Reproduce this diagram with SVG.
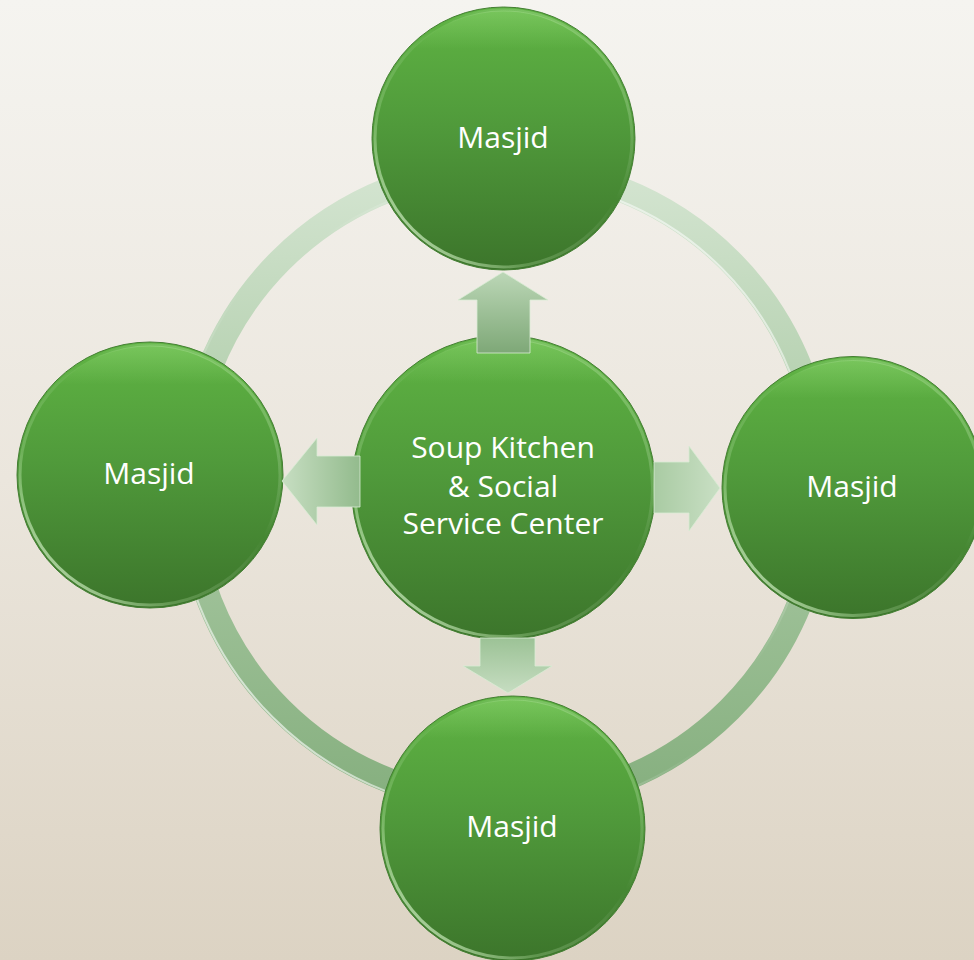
<svg xmlns="http://www.w3.org/2000/svg" width="974" height="960" viewBox="0 0 974 960">
  <defs>
    <linearGradient id="bg" x1="0" y1="0" x2="0" y2="1">
      <stop offset="0" stop-color="#f5f4f0"/>
      <stop offset="0.5" stop-color="#ebe6dd"/>
      <stop offset="1" stop-color="#dcd3c3"/>
    </linearGradient>
    <linearGradient id="ringGrad" gradientUnits="userSpaceOnUse" x1="0" y1="155" x2="0" y2="815">
      <stop offset="0" stop-color="#d6e6d3"/>
      <stop offset="0.5" stop-color="#a9c9a3"/>
      <stop offset="1" stop-color="#84ae7d"/>
    </linearGradient>
    <linearGradient id="ringHiOuter" gradientUnits="userSpaceOnUse" x1="180" y1="810" x2="830" y2="160">
      <stop offset="0" stop-color="#ffffff" stop-opacity="0.9"/>
      <stop offset="0.45" stop-color="#ffffff" stop-opacity="0"/>
      <stop offset="1" stop-color="#ffffff" stop-opacity="0"/>
    </linearGradient>
    <linearGradient id="ringHiInner" gradientUnits="userSpaceOnUse" x1="830" y1="160" x2="180" y2="810">
      <stop offset="0" stop-color="#ffffff" stop-opacity="0.9"/>
      <stop offset="0.45" stop-color="#ffffff" stop-opacity="0"/>
      <stop offset="1" stop-color="#ffffff" stop-opacity="0"/>
    </linearGradient>
    <linearGradient id="ball" x1="0" y1="0" x2="0" y2="1">
      <stop offset="0" stop-color="#5fb443"/>
      <stop offset="0.45" stop-color="#509a3b"/>
      <stop offset="1" stop-color="#3c752b"/>
    </linearGradient>
    <linearGradient id="ballHi" x1="0" y1="1" x2="1" y2="0">
      <stop offset="0" stop-color="#f0ffe8" stop-opacity="1"/>
      <stop offset="0.3" stop-color="#c6f0b4" stop-opacity="0.25"/>
      <stop offset="0.6" stop-color="#ffffff" stop-opacity="0"/>
      <stop offset="1" stop-color="#b9ec9f" stop-opacity="0.45"/>
    </linearGradient>
    <linearGradient id="ballTop" x1="0" y1="0" x2="0" y2="1">
      <stop offset="0" stop-color="#a6e68a" stop-opacity="0.35"/>
      <stop offset="0.15" stop-color="#a6e68a" stop-opacity="0"/>
    </linearGradient>
    <linearGradient id="arrowV" x1="0" y1="0" x2="0" y2="1">
      <stop offset="0" stop-color="#bcd7b7"/>
      <stop offset="1" stop-color="#7ea877"/>
    </linearGradient>
    <linearGradient id="arrowD" x1="0" y1="0" x2="0" y2="1">
      <stop offset="0" stop-color="#9cc296"/>
      <stop offset="1" stop-color="#c6ddc1"/>
    </linearGradient>
    <linearGradient id="arrowH" x1="0" y1="0" x2="1" y2="0">
      <stop offset="0" stop-color="#c7dec2"/>
      <stop offset="1" stop-color="#93bb8d"/>
    </linearGradient>
    <linearGradient id="arrowR" x1="0" y1="0" x2="1" y2="0">
      <stop offset="0" stop-color="#a9cba3"/>
      <stop offset="1" stop-color="#c9dfc4"/>
    </linearGradient>
  </defs>
  <style>
    .ball { fill: url(#ball); stroke: #447f33; stroke-width: 1; }
    .hi { fill: none; stroke: url(#ballHi); stroke-width: 3; }
    .top { fill: url(#ballTop); }
    .label { font-family: "Open Sans", "Liberation Sans", sans-serif; font-size: 30px; fill: #ffffff; text-anchor: middle; }
    .arrow { stroke: #d9ecd5; stroke-width: 1; stroke-opacity: 0.8; }
  </style>

  <rect x="0" y="0" width="974" height="960" fill="url(#bg)"/>

  <g id="ring">
    <circle cx="505" cy="485" r="317.5" fill="none" stroke="url(#ringGrad)" stroke-width="25"/>
    <circle cx="505" cy="485" r="328.5" fill="none" stroke="url(#ringHiOuter)" stroke-width="2"/>
    <circle cx="505" cy="485" r="306.5" fill="none" stroke="url(#ringHiInner)" stroke-width="2"/>
  </g>

  <g id="masjid-top">
    <circle class="ball" cx="503.5" cy="138.5" r="131.5"/>
    <circle class="top" cx="503.5" cy="138.5" r="128"/>
    <circle class="hi" cx="503.5" cy="138.5" r="128.5"/>
    <text class="label" x="503" y="148">Masjid</text>
  </g>

  <g id="masjid-left">
    <circle class="ball" cx="150" cy="475" r="133"/>
    <circle class="top" cx="150" cy="475" r="129.5"/>
    <circle class="hi" cx="150" cy="475" r="130"/>
    <text class="label" x="149" y="484">Masjid</text>
  </g>

  <g id="masjid-right">
    <circle class="ball" cx="853" cy="487.5" r="131"/>
    <circle class="top" cx="853" cy="487.5" r="127.5"/>
    <circle class="hi" cx="853" cy="487.5" r="128"/>
    <text class="label" x="852" y="497">Masjid</text>
  </g>

  <g id="masjid-bottom">
    <circle class="ball" cx="512.5" cy="828.5" r="132.5"/>
    <circle class="top" cx="512.5" cy="828.5" r="129"/>
    <circle class="hi" cx="512.5" cy="828.5" r="129.5"/>
    <text class="label" x="512" y="837">Masjid</text>
  </g>

  <g id="center">
    <circle class="ball" cx="503.5" cy="487.5" r="152"/>
    <circle class="top" cx="503.5" cy="487.5" r="148.5"/>
    <circle class="hi" cx="503.5" cy="487.5" r="149"/>
    <text class="label" x="503" y="458">Soup Kitchen</text>
    <text class="label" x="503" y="497">&amp; Social</text>
    <text class="label" x="503" y="534">Service Center</text>
  </g>

  <g id="connectors">
    <polygon class="arrow" fill="url(#arrowV)" points="477,353 477,300 458,300 503,272 548,300 530,300 530,353"/>
    <polygon class="arrow" fill="url(#arrowH)" points="360,456 317,456 317,438 282,481 317,525 317,507 360,507"/>
    <polygon class="arrow" fill="url(#arrowR)" points="654,462 689,462 689,446 720,488 689,531 689,513 654,513"/>
    <polygon class="arrow" fill="url(#arrowD)" points="480,638 535,638 535,666 552,666 508,693 463,666 480,666"/>
  </g>
</svg>
